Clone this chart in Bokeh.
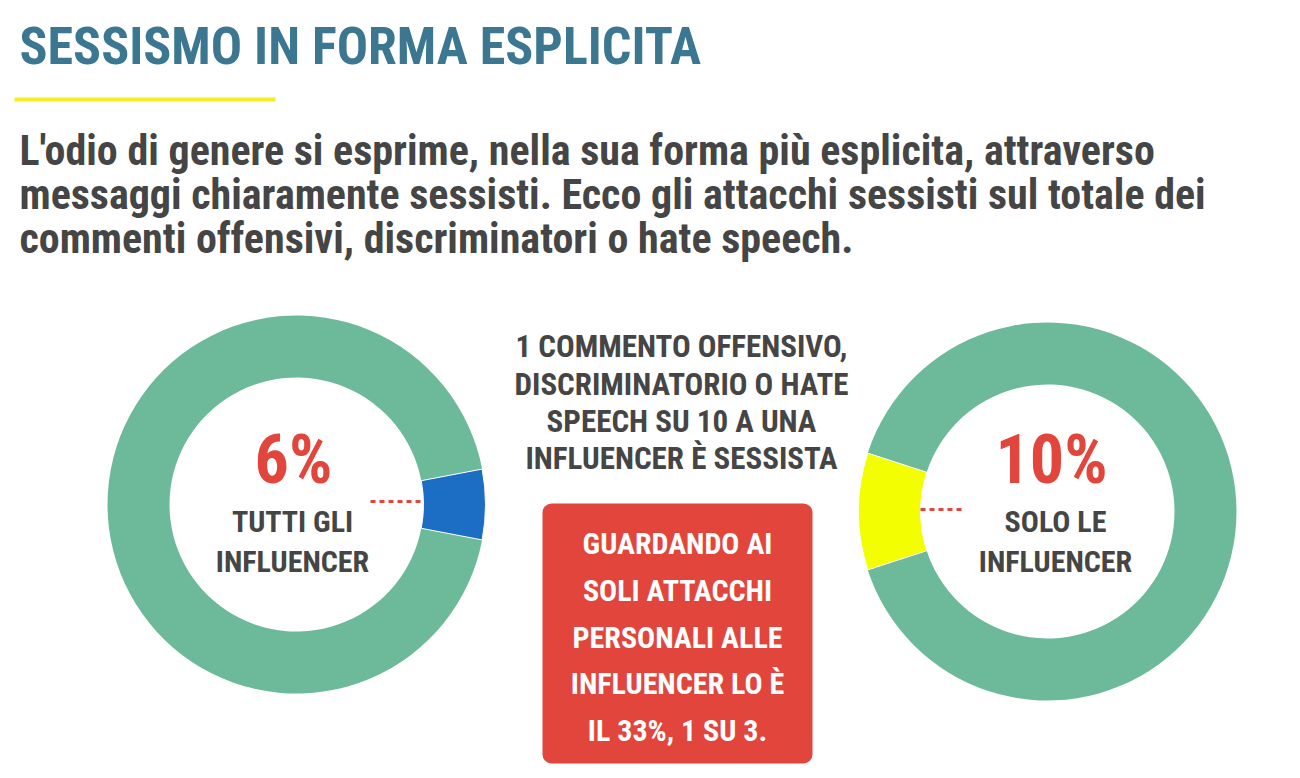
import math
from bokeh.plotting import figure
from bokeh.models import Range1d, BoxAnnotation
from bokeh.core.properties import value
from bokeh.embed import file_html
from bokeh.resources import INLINE

# ---------------- data ----------------
title = "SESSISMO IN FORMA ESPLICITA"
subtitle_lines = [
    "L'odio di genere si esprime, nella sua forma più esplicita, attraverso",
    "messaggi chiaramente sessisti. Ecco gli attacchi sessisti sul totale dei",
    "commenti offensivi, discriminatori o hate speech.",
]
groups = ["TUTTI GLI INFLUENCER", "SOLO LE INFLUENCER"]
group_label_lines = [["TUTTI GLI", "INFLUENCER"], ["SOLO LE", "INFLUENCER"]]
sexist_pct = [6, 10]
pct_labels = ["6%", "10%"]
centre_lines = [
    "1 COMMENTO OFFENSIVO,",
    "DISCRIMINATORIO O HATE",
    "SPEECH SU 10 A UNA",
    "INFLUENCER È SESSISTA",
]
box_lines = [
    "GUARDANDO AI",
    "SOLI ATTACCHI",
    "PERSONALI ALLE",
    "INFLUENCER LO È",
    "IL 33%, 1 SU 3.",
]

# ---------------- style / layout ----------------
FONT = "Roboto Condensed"
GREEN = "#6dba9b"
HIGHLIGHT = ["#1b6ec3", "#f3ff00"]
RED = "#e2453b"
DARK = "#454545"
TITLE_C = "#3b7790"

W, H = 1284, 770
p = figure(width=W, height=H, output_backend="svg", toolbar_location=None,
           x_range=Range1d(0, W), y_range=Range1d(H, 0),
           min_border=0)
p.axis.visible = False
p.grid.visible = False
p.outline_line_color = None
p.background_fill_color = "white"

# title + underline
p.text(x=[19], y=[46], text=[title], text_font=value(FONT), text_font_style="bold",
       text_font_size="52px", text_color=TITLE_C, text_align="left", text_baseline="middle")
p.segment(x0=[14], y0=[99], x1=[275], y1=[99], line_color="#f4ef1f", line_width=4)

# subtitle
p.text(x=[19] * 3, y=[150, 194, 238], text=subtitle_lines, text_font=value(FONT),
       text_font_style="bold", text_font_size="42px", text_color=DARK,
       text_align="left", text_baseline="middle")

# donuts
centres = [(296, 504), (1047, 511)]
directions = [0.0, math.pi]  # where the highlighted slice points
R_OUT, R_IN = 189, 127
for (cx, cy), pct, d, col in zip(centres, sexist_pct, directions, HIGHLIGHT):
    half = pct / 100 * math.pi
    p.annular_wedge(x=[cx], y=[cy], inner_radius=R_IN, outer_radius=R_OUT,
                    start_angle=[d + half], end_angle=[d - half + 2 * math.pi],
                    fill_color=GREEN, line_color=None, direction="anticlock")
    p.annular_wedge(x=[cx], y=[cy], inner_radius=R_IN, outer_radius=R_OUT,
                    start_angle=[d - half], end_angle=[d + half],
                    fill_color=col, line_color="white", line_width=1, direction="anticlock")

# dotted pointers
p.segment(x0=[370, 920], y0=[501, 509], x1=[423, 962], y1=[501, 509],
          line_color=RED, line_width=3, line_dash="5 4")

# percentages
p.text(x=[293, 1051], y=[459, 459], text=pct_labels, text_font=value(FONT),
       text_font_style="bold", text_font_size="68px", text_color=RED,
       text_align="center", text_baseline="middle")

# group labels
lx = [292, 1055]
for i, lines in enumerate(group_label_lines):
    p.text(x=[lx[i]] * 2, y=[521, 561], text=lines, text_font=value(FONT),
           text_font_style="bold", text_font_size="30px", text_color=DARK,
           text_align="center", text_baseline="middle")

# centre text
p.text(x=[681] * 4, y=[346, 384, 421, 458], text=centre_lines, text_font=value(FONT),
       text_font_style="bold", text_font_size="31px", text_color=DARK,
       text_align="center", text_baseline="middle")

# red box
p.add_layout(BoxAnnotation(left=542, right=812, top=503, bottom=763,
                           fill_color=RED, fill_alpha=1, line_color=None,
                           border_radius=9, level="underlay"))
p.text(x=[677] * 5, y=[543, 590, 637, 683, 730], text=box_lines, text_font=value(FONT),
       text_font_style="bold", text_font_size="30px", text_color="white",
       text_align="center", text_baseline="middle")

open("out.html", "w").write(file_html(p, INLINE))
